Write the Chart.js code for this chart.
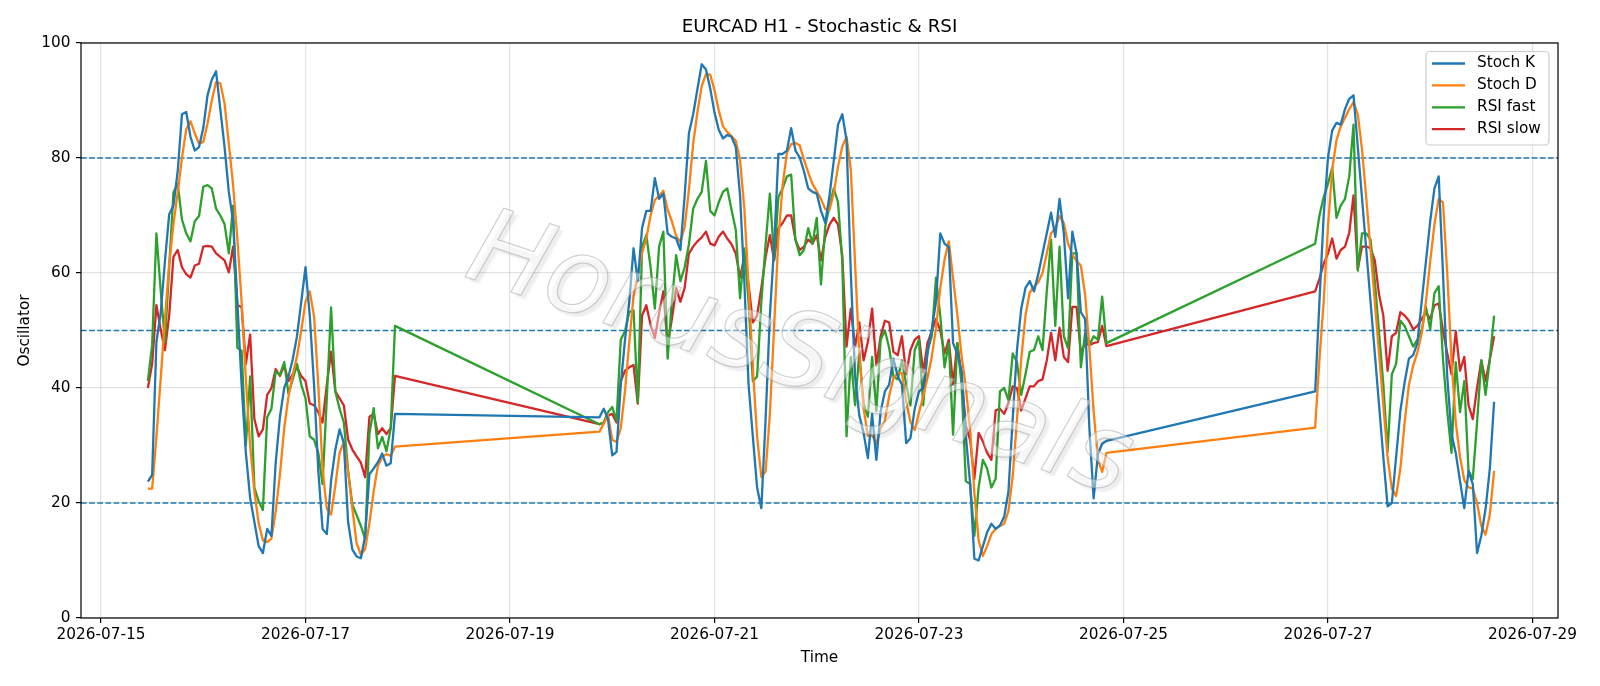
<!DOCTYPE html>
<html>
<head>
<meta charset="utf-8">
<title>EURCAD H1 - Stochastic & RSI</title>
<script src="https://cdn.jsdelivr.net/npm/chart.js@4.4.1/dist/chart.umd.min.js"></script>
<style>
    html, body { margin: 0; padding: 0; background: #fff; }
    canvas { display: block; }
</style>
</head>
<body>
<canvas id="osc-chart" width="1600" height="686"></canvas>
<script>
// hourly bars, three trading blocks (weekends skipped)
const segments = [
    ['2026-07-15T11:00:00', 59],
    ['2026-07-19T21:00:00', 120],
    ['2026-07-26T21:00:00', 43]
];

const stochK = [
    23.7, 24.9, 48, 53, 62, 70.2, 71.7, 77.7, 87.6, 88,
    83.7, 81.3, 81.9, 85.2, 90.9, 93.6, 95.1, 88.5, 81.9, 74.1,
    69, 55, 40.6, 28.7, 20.9, 16.7, 12.5, 11.3, 15.5, 14.3,
    27, 35, 40, 42, 45, 49, 55, 61, 52.6, 40.6,
    25.7, 15.5, 14.6, 23.9, 29.3, 32.8, 30.4, 16.7, 11.9, 10.7,
    10.4, 14.3, 25, 26, 27.1, 28.6, 26.5, 26.9, 35.5,

    34.9, 36.4, 34.6, 28.3, 28.9, 40.6, 48.4, 55, 64.3, 58.6,
    67.8, 70.8, 70.8, 76.5, 72.9, 73.8, 66.9, 66.3, 66, 64,
    73.5, 84.3, 87.6, 92, 96.3, 95.4, 92.1, 87.9, 84.9, 83.4,
    84, 83.7, 81.9, 73.5, 58.6, 40.6, 31.6, 22.7, 19.1, 34.6,
    52.6, 64.6, 80.7, 80.7, 81.3, 85.2, 81.3, 80.1, 77.7, 74.7,
    74.1, 73.8, 70.8, 68.7, 73.5, 79.5, 85.8, 87.6, 83.1, 60,
    42, 35.2, 32.2, 27.8, 35.5, 27.5, 35.9, 39.4, 40.6, 45.1,
    42.1, 40.6, 30.4, 31.3, 36.4, 39.4, 40, 46, 50.2, 55,
    66.9, 65.1, 64.5, 47.8, 46, 43, 31.6, 23.5, 10.3, 10,
    12.5, 14.9, 16.4, 15.5, 16.1, 17.6, 22, 34.6, 46.6, 53.8,
    57.4, 58.6, 56.8, 59.8, 63.4, 66.9, 70.5, 66.3, 72.9, 66.9,
    55.6, 67.2, 63.4, 53.2, 52, 33, 20.8, 28.5, 30.3, 30.8,

    39.4, 55, 70, 80, 84.8, 86.1, 85.8, 88.5, 90.3, 90.9,
    82, 73, 64, 55, 46, 37, 28, 19.4, 20, 28,
    36, 41, 45.1, 45.7, 47.8, 55, 62, 69, 74.7, 76.8,
    60, 42, 32, 28.7, 23.8, 19.1, 25.6, 23.3, 11.3, 14.3,
    19, 26, 37.6
];

const stochD = [
    22.5, 22.5, 31.5, 41.5, 52, 61.5, 68.5, 74, 80, 85,
    86.4, 84.3, 82.5, 82.8, 86, 90, 93.2, 93, 89.5, 82.5,
    75.3, 66, 55, 41.5, 30, 22, 16.5, 13.5, 13.2, 13.8,
    18.5, 25, 33, 38.5, 42.3, 45.5, 50, 55, 56.8, 52.5,
    40.5, 26, 19, 18, 23, 28.7, 30.6, 25.5, 19, 13,
    11, 12, 16.5, 22, 26.5, 28, 28.5, 28.2, 29.8,

    32.4, 33.8, 35.3, 31, 30.6, 33, 39.5, 48, 56, 59.5,
    63.5, 66, 70, 72.7, 73.4, 74.3, 71, 69, 66.4, 65.4,
    68, 74.5, 82.5, 88, 92.5, 94.6, 94.5, 91.8, 88.3, 85.5,
    84.5, 83.8, 83, 79.7, 71.3, 57.7, 43.6, 31.6, 24.5, 25.5,
    35.4, 50.6, 66, 75.3, 80.9, 82.4, 82.6, 82.2, 79.7, 77.5,
    75.5, 74.2, 72.9, 71.1, 71, 73.9, 78.5, 82, 83.7, 78,
    61.7, 45.7, 36.5, 31.7, 31.8, 30.3, 33, 34.3, 38.6, 41.7,
    42.6, 42.6, 37.7, 34.1, 32.7, 35.7, 38.6, 41.8, 45.4, 50.4,
    57.4, 62.3, 65.5, 59.1, 52.8, 45.6, 40.2, 32.7, 21.8, 13.5,
    10.8, 12.5, 14.6, 15.5, 16, 16.4, 18.6, 24.7, 34.4, 45,
    52.6, 56.6, 57.6, 58.4, 60, 63.4, 66.9, 67.9, 69.9, 68.7,
    65.1, 63.2, 62.1, 61.3, 56.2, 47, 36, 27.5, 25.4, 28.7,

    33.1, 45, 55, 68, 78, 83.1, 85.5, 87, 88.5, 89.7,
    87.6, 81.5, 73, 64, 55, 46, 37, 28, 22.5, 21.2,
    26, 34, 40.5, 43.9, 46.2, 49.5, 55, 62, 68.5, 72.9,
    72.3, 60, 45, 34, 28, 24, 22.7, 22.5, 20, 16,
    14.5, 18, 25.6
];

const rsiFast = [
    41.2, 47.5, 66.9, 57, 48, 61, 74, 75.5, 69.3, 66.9,
    65.5, 69, 69.9, 75, 75.3, 74.7, 71.2, 70, 68.5, 63.4,
    71.7, 47, 46.5, 30, 42, 22.7, 20.3, 18.8, 34.9, 36.4,
    42.9, 42.3, 44.5, 39, 41.5, 44.2, 40.6, 38.2, 31.6, 31,
    28.7, 23.3, 38.2, 54, 39.4, 36.4, 34, 25.6, 19.7, 17.9,
    16, 13.7, 32, 36.5, 29.5, 31.5, 29, 33, 50.8,

    33.7, 34, 35.8, 36.7, 34.3, 48.4, 49.9, 53.2, 53.5, 37.5,
    64.6, 66.6, 61, 53.8, 64.6, 67.2, 45.1, 55, 63.1, 58.6,
    61, 65, 71.2, 72.9, 74.1, 79.5, 70.8, 70, 72.3, 74.1,
    74.7, 71, 67.5, 55.6, 64.3, 55, 41.2, 42, 55, 65,
    73.8, 62.5, 73.2, 74.7, 76.8, 77.1, 65.8, 63.1, 64, 67.8,
    65.1, 69.6, 58, 68.1, 71.7, 74.7, 72.3, 62, 31.6, 45.4,
    37, 46, 37.3, 35, 45.4, 36, 48.4, 50, 47, 42,
    41.5, 44.8, 40.6, 37, 46.6, 48.4, 37, 46.6, 49, 59.2,
    52.6, 43.6, 47.8, 31.9, 47.8, 40.6, 23.8, 23.3, 14.3, 22.7,
    27.5, 26, 22.7, 24.2, 39.4, 40, 37.9, 46, 44.5, 38.8,
    42.4, 46.3, 46.6, 49, 46.6, 56.8, 65.8, 50.8, 64.6, 49,
    46.9, 63.4, 63.4, 43.6, 49.6, 47.5, 49, 48.4, 55.9, 47.8,

    65.1, 70, 73.2, 75.5, 78.3, 69.6, 71.7, 72.9, 76.8, 85.8,
    60.4, 66.9, 66.9, 65.8, 58.6, 49.6, 40.6, 28.9, 42.4, 44.2,
    51.7, 50.8, 49, 47.2, 48.4, 50, 54.1, 50.2, 56.5, 57.7,
    45, 36, 28.7, 44.5, 35.8, 41.2, 25.6, 24.2, 34, 44.8,
    38.8, 45, 52.6
];

const rsiSlow = [
    40, 44.2, 54.4, 50.2, 46.6, 52.6, 62.8, 64, 61, 59.8,
    59.2, 61.3, 61.6, 64.6, 64.7, 64.6, 63.4, 62.8, 62.2, 60.1,
    64.6, 54.4, 54.1, 44.2, 49.3, 34.6, 31.6, 32.8, 38.8, 40,
    43.3, 42.1, 43.9, 41.2, 42.4, 43.6, 42.1, 41.2, 37.3, 37,
    35.8, 34, 40.6, 46.3, 39.4, 38.2, 37, 31, 29.3, 28.1,
    27, 24.5, 35, 35.5, 32, 33, 32, 33, 42.1,

    33.7, 34, 35.2, 35.5, 34, 41.2, 43, 43.6, 44, 37.3,
    52.6, 54.4, 51, 48.7, 53, 56.8, 47.5, 52, 57.4, 55,
    57.4, 63.4, 64.6, 65.5, 66.2, 67.2, 65.1, 64.8, 66.3, 67.2,
    66, 65, 63.4, 59.2, 62.8, 58, 51.4, 52.6, 57.4, 62.8,
    66.6, 62.2, 67.8, 68.7, 70, 70, 65.8, 64, 64.6, 65.8,
    65.1, 66.6, 62.2, 66.3, 68.4, 69.6, 68.4, 63, 47.2, 53.8,
    47.2, 51.4, 44.8, 48, 53.8, 43.9, 49, 51.7, 51.4, 46.3,
    45.7, 49, 42.4, 46.6, 48.4, 49, 42.7, 47.8, 49.9, 52,
    50, 46, 48.4, 40.6, 47.8, 42, 33.4, 31, 24.2, 32.2,
    30.7, 28.7, 27.5, 36.1, 36.4, 35.5, 37.3, 40.3, 40, 36.1,
    38.2, 40.3, 40.3, 41.2, 41.5, 44.8, 49.6, 44.8, 50.5, 45.4,
    44.5, 54.1, 54.1, 46, 47.8, 47.5, 47.8, 48, 50.8, 47.3,

    56.8, 59, 61.6, 63.4, 66, 62.5, 64, 64.6, 67, 73.5,
    60.7, 64.6, 64.6, 64.3, 62.2, 56.2, 52.6, 43, 49, 49.6,
    53.2, 52.6, 51.7, 50.2, 50.8, 52, 53.2, 52, 54.4, 54.7,
    50, 46, 42.4, 49.9, 43, 45.4, 37, 34.6, 40, 44.8,
    41.2, 45, 49
];

const levels = [20, 50, 80];
const tickLabels = ['2026-07-15', '2026-07-17', '2026-07-19', '2026-07-21', '2026-07-23', '2026-07-25', '2026-07-27', '2026-07-29'];
const chartTitle = 'EURCAD H1 - Stochastic & RSI';
const watermark = 'HorusSignals';

const origin = Date.parse('2026-07-15T00:00:00Z');
const toHours = (s) => (Date.parse(s + 'Z') - origin) / 3600000;

const times = [];
segments.forEach(([start, count]) => {
    const h0 = toHours(start);
    for (let i = 0; i < count; i++) times.push(h0 + i);
});
const tickHours = tickLabels.map(d => toHours(d + 'T00:00:00'));
const points = (values) => values.map((v, i) => ({ x: times[i], y: v }));

Chart.defaults.font.family = "'DejaVu Sans', sans-serif";
Chart.defaults.color = '#000';

const decorations = {
    id: 'decorations',
    beforeDatasetsDraw(chart) {
        const { ctx, chartArea: a, scales: { y } } = chart;
        ctx.save();
        ctx.strokeStyle = '#1f77b4';
        ctx.lineWidth = 1.5;
        ctx.setLineDash([5.7, 2.45]);
        levels.forEach(l => {
            const py = y.getPixelForValue(l);
            ctx.beginPath();
            ctx.moveTo(a.left, py);
            ctx.lineTo(a.right, py);
            ctx.stroke();
        });
        ctx.restore();
    },
    afterDatasetsDraw(chart) {
        const { ctx, chartArea: a } = chart;
        ctx.save();
        ctx.translate(a.left + 0.486 * (a.right - a.left), a.top + 0.55 * (a.bottom - a.top));
        ctx.rotate(18.5 * Math.PI / 180);
        ctx.font = "italic 106px 'DejaVu Sans'";
        ctx.textAlign = 'center';
        ctx.textBaseline = 'middle';
        ctx.shadowColor = 'rgba(0, 0, 0, 0.16)';
        ctx.shadowOffsetX = 4;
        ctx.shadowOffsetY = 4;
        ctx.shadowBlur = 2;
        ctx.fillStyle = 'rgba(255, 255, 255, 0.45)';
        ctx.fillText(watermark, 0, 0);
        ctx.shadowColor = 'transparent';
        ctx.strokeStyle = 'rgba(150, 150, 150, 0.45)';
        ctx.lineWidth = 1.2;
        ctx.strokeText(watermark, 0, 0);
        ctx.restore();
    },
    afterDraw(chart) {
        const { ctx, chartArea: a } = chart;
        ctx.save();
        ctx.strokeStyle = '#000';
        ctx.lineWidth = 1.2;
        ctx.strokeRect(a.left, a.top, a.right - a.left, a.bottom - a.top);

        ctx.fillStyle = '#000';
        ctx.font = "18.3px 'DejaVu Sans'";
        ctx.textAlign = 'center';
        ctx.textBaseline = 'middle';
        ctx.fillText(chartTitle, (a.left + a.right) / 2, 27);

        // legend box, upper right
        const bx = a.right - 132, by = a.top + 8.5, bw = 123, bh = 93.5, r = 4;
        ctx.beginPath();
        ctx.moveTo(bx + r, by);
        ctx.arcTo(bx + bw, by, bx + bw, by + bh, r);
        ctx.arcTo(bx + bw, by + bh, bx, by + bh, r);
        ctx.arcTo(bx, by + bh, bx, by, r);
        ctx.arcTo(bx, by, bx + bw, by, r);
        ctx.closePath();
        ctx.fillStyle = 'rgba(255, 255, 255, 0.8)';
        ctx.fill();
        ctx.strokeStyle = '#cccccc';
        ctx.lineWidth = 1.2;
        ctx.stroke();

        ctx.font = "15.3px 'DejaVu Sans'";
        ctx.textAlign = 'left';
        chart.data.datasets.forEach((ds, i) => {
            const ry = by + 12 + i * 21.9;
            ctx.strokeStyle = ds.borderColor;
            ctx.lineWidth = 2.3;
            ctx.beginPath();
            ctx.moveTo(bx + 6, ry);
            ctx.lineTo(bx + 39, ry);
            ctx.stroke();
            ctx.fillStyle = '#000';
            ctx.fillText(ds.label, bx + 51, ry);
        });
        ctx.restore();
    }
};

const gridOpts = {
    color: 'rgba(176, 176, 176, 0.35)',
    lineWidth: 1.2,
    tickColor: '#000',
    tickLength: 5,
    tickWidth: 1.2
};

const ctx = document.getElementById('osc-chart').getContext('2d');
const oscChart = new Chart(ctx, {
    type: 'line',
    data: {
        datasets: [
            { label: 'Stoch K', data: points(stochK), borderColor: '#1f77b4' },
            { label: 'Stoch D', data: points(stochD), borderColor: '#ff7f0e' },
            { label: 'RSI fast', data: points(rsiFast), borderColor: '#2ca02c' },
            { label: 'RSI slow', data: points(rsiSlow), borderColor: '#d62728' }
        ]
    },
    options: {
        responsive: false,
        animation: false,
        devicePixelRatio: 1,
        layout: { padding: { left: 0, right: 42, top: 43, bottom: 0 } },
        elements: {
            line: { borderWidth: 2.3, tension: 0, borderJoinStyle: 'round', fill: false },
            point: { radius: 0 }
        },
        plugins: {
            legend: { display: false },
            title: { display: false },
            tooltip: { enabled: false }
        },
        scales: {
            x: {
                type: 'linear',
                min: -4.7,
                max: 342,
                afterBuildTicks: (scale) => { scale.ticks = tickHours.map(v => ({ value: v })); },
                afterFit: (scale) => { scale.height = 68; },
                ticks: {
                    autoSkip: false,
                    maxRotation: 0,
                    padding: 3,
                    font: { size: 15.3 },
                    callback: (value, index) => tickLabels[index]
                },
                grid: gridOpts,
                border: { display: false },
                title: { display: true, text: 'Time', font: { size: 15.3 }, padding: { top: 0, bottom: 19 } }
            },
            y: {
                min: 0,
                max: 100,
                afterFit: (scale) => { scale.width = 81; },
                ticks: { stepSize: 20, padding: 5.5, font: { size: 15.3 } },
                grid: gridOpts,
                border: { display: false },
                title: { display: true, text: 'Oscillator', font: { size: 15.3 }, padding: { top: 16, bottom: 0 } }
            }
        }
    },
    plugins: [decorations]
});
</script>
</body>
</html>
